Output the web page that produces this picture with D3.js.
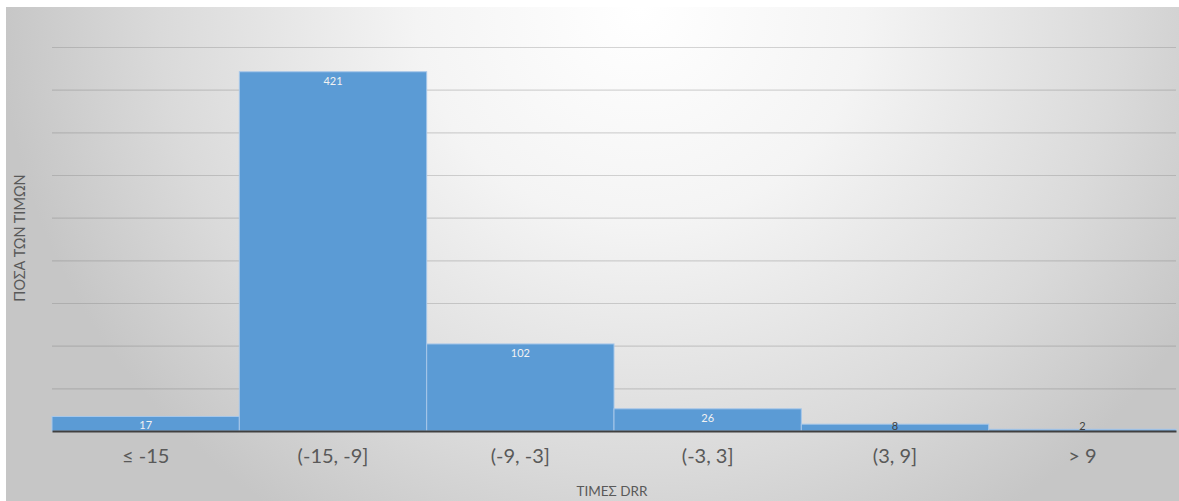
<!DOCTYPE html>
<html>
<head>
<meta charset="utf-8">
<script src="https://cdn.jsdelivr.net/npm/d3@7"></script>
<style>
  html, body { margin: 0; padding: 0; background: #ffffff; }
  svg { display: block; }
</style>
</head>
<body>
<svg id="chart" width="1179" height="501"></svg>
<script>
// DRR value bins and how many values fall in each
const categories = ["≤ -15", "(-15, -9]", "(-9, -3]", "(-3, 3]", "(3, 9]", "> 9"];
const counts = [17, 421, 102, 26, 8, 2];
const yTicks = [0, 50, 100, 150, 200, 250, 300, 350, 400, 450];

const xTitle = "ΤΙΜΕΣ DRR";
const yTitle = "ΠΟΣΑ ΤΩΝ ΤΙΜΩΝ";

const svg = d3.select("#chart");
const W = 1179, H = 501;
const frame = { x: 6, y: 7 };
const plot = { left: 52, right: 1176, top: 47, bottom: 431 };
const font = "Lato, 'Open Sans', sans-serif";

// Soft radial background of the chart frame
const defs = svg.append("defs");
const grad = defs.append("radialGradient")
  .attr("id", "bg")
  .attr("gradientUnits", "userSpaceOnUse")
  .attr("cx", 640).attr("cy", 10).attr("r", 640)
  .attr("gradientTransform", "translate(640,10) scale(1,0.95) translate(-640,-10)");
grad.append("stop").attr("offset", "0").attr("stop-color", "#ffffff");
grad.append("stop").attr("offset", "0.35").attr("stop-color", "#f4f4f4");
grad.append("stop").attr("offset", "0.75").attr("stop-color", "#dadada");
grad.append("stop").attr("offset", "1").attr("stop-color", "#c6c6c6");

svg.append("rect")
  .attr("x", frame.x).attr("y", frame.y)
  .attr("width", W - frame.x).attr("height", H - frame.y)
  .attr("fill", "url(#bg)");

const x = d3.scaleBand()
  .domain(categories)
  .range([plot.left, plot.right])
  .paddingInner(0).paddingOuter(0);

const y = d3.scaleLinear()
  .domain([0, 450])
  .range([plot.bottom, plot.top]);

// Horizontal gridlines
svg.append("g")
  .attr("transform", `translate(${plot.left},0)`)
  .call(d3.axisLeft(y).tickValues(yTicks.slice(1)).tickSize(-(plot.right - plot.left)).tickFormat(""))
  .call(g => g.select(".domain").remove())
  .call(g => g.selectAll(".tick line")
    .attr("stroke", "rgba(120,120,120,0.3)")
    .attr("stroke-width", 1.2));

// Bars
svg.append("g").selectAll("rect")
  .data(categories.map((c, i) => ({ c, v: counts[i] })))
  .join("rect")
  .attr("x", d => x(d.c))
  .attr("y", d => y(d.v))
  .attr("width", x.bandwidth())
  .attr("height", d => y(0) - y(d.v))
  .attr("fill", "#5b9bd5")
  .attr("stroke", "#a7c7e9")
  .attr("stroke-width", 1);

// Value labels (inside end; too-short bars get dark text)
svg.append("g").selectAll("text")
  .data(categories.map((c, i) => ({ c, v: counts[i] })))
  .join("text")
  .attr("x", d => x(d.c) + x.bandwidth() / 2)
  .attr("y", d => Math.min(y(d.v) + 13, y(0) - 1))
  .attr("text-anchor", "middle")
  .attr("font-family", font)
  .attr("font-size", 11)
  .attr("fill", d => (y(0) - y(d.v)) < 14 ? "#404040" : "#f2f2f2")
  .text(d => d.v);

// Baseline axis
svg.append("g")
  .attr("transform", `translate(0,${plot.bottom})`)
  .call(d3.axisBottom(x).tickSize(0).tickPadding(18))
  .call(g => g.select(".domain").attr("stroke", "#404040").attr("stroke-width", 2))
  .call(g => g.selectAll(".tick text")
    .attr("font-family", font)
    .attr("font-size", 20)
    .attr("fill", "#595959"));

// Axis titles
svg.append("text")
  .attr("x", (plot.left + plot.right) / 2 - 2)
  .attr("y", 496)
  .attr("text-anchor", "middle")
  .attr("font-family", font)
  .attr("font-size", 13.5)
  .attr("fill", "#595959")
  .text(xTitle);

svg.append("text")
  .attr("transform", `translate(25,${238}) rotate(-90)`)
  .attr("text-anchor", "middle")
  .attr("font-family", font)
  .attr("font-size", 14.5)
  .attr("fill", "#595959")
  .text(yTitle);
</script>
</body>
</html>
